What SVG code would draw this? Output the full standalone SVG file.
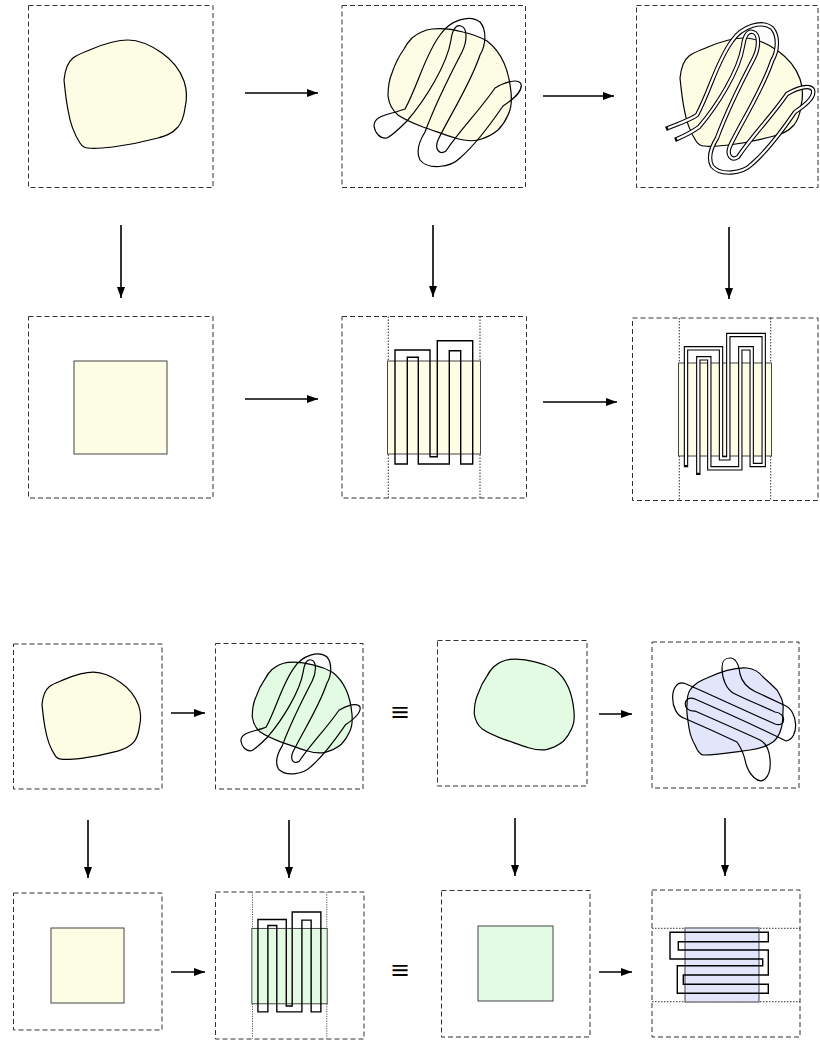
<svg xmlns="http://www.w3.org/2000/svg" width="820" height="1044" viewBox="0 0 820 1044">
<style>
.frame{fill:#fefefe;stroke:#333;stroke-width:1;stroke-dasharray:5 3}
.dot{fill:none;stroke:#333;stroke-width:1;stroke-dasharray:1.5 1.5}
.wire{fill:none;stroke:#000;stroke-width:1.2;stroke-linejoin:round}
.rwire{fill:none;stroke:#000;stroke-width:1.4;stroke-linejoin:miter}
.casing{fill:none;stroke:#000;stroke-width:4.4;stroke-linecap:square;stroke-linejoin:miter}
.inner{fill:none;stroke:#fff;stroke-width:2.2;stroke-linecap:butt;stroke-linejoin:miter}
.casingr{fill:none;stroke:#000;stroke-width:4.4;stroke-linecap:square;stroke-linejoin:round}
.innerr{fill:none;stroke:#fff;stroke-width:2.2;stroke-linecap:butt;stroke-linejoin:round}
.yel{fill:#fdfde5;stroke:#000;stroke-width:1.2}
.grn{fill:#e2fbe2;stroke:#000;stroke-width:1.2}
.blu{fill:#e3e6fb;stroke:#000;stroke-width:1.2}
.sq{stroke:#444;stroke-width:1}
.arrow{stroke:#000;stroke-width:1.6;fill:none;marker-end:url(#ah)}
.eq{font-family:"Liberation Sans","DejaVu Sans",sans-serif;font-size:26px;text-anchor:middle;fill:#000}
</style>
<defs>
<marker id="ah" viewBox="0 0 11 8" refX="11" refY="4" markerWidth="11" markerHeight="8" markerUnits="userSpaceOnUse" orient="auto"><path d="M0,0 L11,4 L0,8 z" fill="#000"/></marker>
<path id="blobA" d="M64,80 C65,70 68,62 73,58 C78,54 85,52 92,49 C104,44 116,40 128,40 C140,40 152,46 162,53 C172,60 180,70 184,81 C187,90 187,100 185,108 C184,116 182,122 178,127 C172,134 165,136 158,138 C143,142 128,145 113,147 C104,148 95,149 88,148 C85,148 82,146 80,143 C74,134 70,122 68,110 C66,100 65,90 64,80 Z"/>
<path id="blobB" d="M412,38 C418,33 424,30 432,29 C442,28 452,29 463,32 C472,34 480,37 487,41 C495,47 500,54 504,63 C508,72 510,82 511,92 C512,101 511,109 508,115 C505,122 502,126 498,130 C492,135 486,138 478,140 C470,142 462,140 455,138 C445,135 435,131 423,127 C415,124 405,120 398,115 C392,110 389,104 388,96 C388,88 389,80 392,73 C395,64 399,56 404,49 C406,45 409,41 412,38 Z"/>
<path id="curveB" fill="none" d="M405,109 C418,85 425,55 440,35 C450,20 470,14 480,22 C487,30 486,45 480,55 C470,85 450,115 438,140 C434,150 440,155 446,151 C460,130 480,110 495,88 C505,82 518,78 521,84 C523,92 512,100 503,106 C490,125 475,145 460,158 C450,168 428,170 420,160 C415,150 420,140 425,132 C435,105 450,75 462,52 C467,42 468,28 461,26 C455,24 452,32 451,40 C447,65 425,100 407,121 C400,128 393,135 387,138 C380,139 375,133 374,126 C374,119 380,116 392,113 C397,112 402,110 405,109 Z"/>
<path id="curveE" fill="none" d="M395,464 L395,350 L430,350 L430,456.7 L437.3,456.7 L437.3,340.7 L472.7,340.7 L472.7,464 L460.7,464 L460.7,350.7 L449.3,350.7 L449.3,464 L418.3,464 L418.3,357.3 L407.3,357.3 L407.3,464 Z"/>
<path id="curveC" d="M668,128 C680,123 690,120 697,115 C710,91 717,61 732,41 C742,26 762,20 772,28 C779,36 778,51 772,61 C762,91 742,121 730,146 C726,156 732,161 738,157 C752,136 772,116 787,94 C797,88 810,84 813,90 C815,98 804,106 795,112 C782,131 767,151 752,164 C742,174 720,176 712,166 C707,156 712,146 717,138 C727,111 742,81 754,58 C759,48 760,34 753,32 C747,30 744,38 743,46 C739,71 717,106 699,127 C692,132 684,136 677,139"/>
<path id="curveF" d="M686,465 L686,348.3 L721,348.3 L721,458.3 L728.3,458.3 L728.3,335 L763.7,335 L763.7,465 L751.7,465 L751.7,348.3 L740.3,348.3 L740.3,468.3 L709.3,468.3 L709.3,358.3 L698.3,358.3 L698.3,472.7"/>
</defs>

<g id="panel-a">
<rect class="frame" x="28.5" y="5.5" width="184.5" height="182"/>
<use href="#blobA" class="yel"/>
</g>
<g id="panel-b">
<rect class="frame" x="342" y="5.5" width="183.5" height="182"/>
<use href="#blobB" class="yel"/>
<use href="#curveB" class="wire"/>
</g>
<g id="panel-c">
<rect class="frame" x="636.5" y="5.5" width="181.5" height="182"/>
<use href="#blobA" class="yel" transform="translate(616,-2)"/>
<use href="#curveC" class="casingr"/>
<use href="#curveC" class="innerr"/>
</g>

<g id="panel-d">
<rect class="frame" x="28.5" y="316.5" width="184.5" height="181.5"/>
<rect class="sq" x="74" y="361" width="93" height="93" fill="#fdfde5"/>
</g>
<g id="panel-e">
<rect class="frame" x="342" y="316.5" width="184.5" height="181.5"/>
<line class="dot" x1="388.3" y1="316.5" x2="388.3" y2="498"/>
<line class="dot" x1="480" y1="316.5" x2="480" y2="498"/>
<rect class="sq" x="387.5" y="361" width="93" height="93" fill="#fdfde5"/>
<use href="#curveE" class="rwire"/>
</g>
<g id="panel-f">
<rect class="frame" x="632.5" y="318" width="185.5" height="182.5"/>
<line class="dot" x1="679.3" y1="318" x2="679.3" y2="500.5"/>
<line class="dot" x1="770.7" y1="318" x2="770.7" y2="500.5"/>
<rect class="sq" x="678.5" y="363" width="93" height="93" fill="#fdfde5"/>
<use href="#curveF" class="casing"/>
<use href="#curveF" class="inner"/>
</g>

<g id="panel-g">
<rect class="frame" x="13.5" y="644" width="148.5" height="145"/>
<use href="#blobA" fill="#fdfde5" stroke="#000" stroke-width="1.5" transform="translate(13,644) scale(0.805) translate(-28,-5)"/>
</g>
<g id="panel-h">
<rect class="frame" x="215.5" y="643.5" width="147.5" height="145.5"/>
<g transform="translate(215,643) scale(0.81) translate(-342,-5)">
<use href="#blobB" fill="#e2fbe2" stroke="#000" stroke-width="1.5"/>
<use href="#curveB" stroke="#000" stroke-width="1.5"/>
</g>
</g>
<g id="panel-i">
<rect class="frame" x="437.5" y="640.5" width="149.5" height="145.5"/>
<use href="#blobB" fill="#e2fbe2" stroke="#000" stroke-width="1.5" transform="translate(437,640) scale(0.81) translate(-342,-5)"/>
</g>
<g id="panel-j">
<rect class="frame" x="652" y="642" width="147" height="146"/>
<path class="blu" d="M690,690 C695,683 700,681 707,678 C720,672 735,667 747,668 C755,669 760,673 763,677 C770,683 774,687 777,690 C781,697 784,702 783,710 C783,718 783,724 781,729 C779,736 777,739 773,742 C766,747 758,749 750,750 C735,752 718,755 703,755 C699,754 697,750 695,745 C692,740 690,734 689,728 C688,720 686,712 687,705 C687,698 688,693 690,690 Z"/>
<path class="wire" d="M730,658 C737,658 739,666 740,674 C742,682 748,688 755,691.5 L785,705.5 C798,711 800,738 786,741 C770,733 720,710 695,699 C683,694 681,712 695,711 C720,722 745,733 760,740 C772,746 773,772 765,779 C758,785 749,774 746,764 C744,756 744,752 737,742 C720,734 700,725 685,718.5 C668,714 669,678 685,683.5 C720,699 760,717 775,724 C786,728 787,713 775,712 C760,705 745,699 735,694 C726,690 722,678 722,668 C722,659 726,658 730,658 Z"/>
</g>

<g id="panel-k">
<rect class="frame" x="13.5" y="893" width="148.5" height="137"/>
<rect class="sq" x="51" y="928" width="73" height="75" fill="#fdfde5"/>
</g>
<g id="panel-l">
<rect class="frame" x="215.5" y="892" width="148.5" height="147"/>
<g transform="translate(215,892) scale(0.81) translate(-342,-316)">
<line class="dot" x1="388.3" y1="316" x2="388.3" y2="497"/>
<line class="dot" x1="480" y1="316" x2="480" y2="497"/>
<rect x="387.5" y="361" width="93" height="93" fill="#e2fbe2" stroke="#444" stroke-width="1.2"/>
<use href="#curveE" stroke="#000" stroke-width="1.7"/>
</g>
</g>
<g id="panel-m">
<rect class="frame" x="441.5" y="890.5" width="148.5" height="146.5"/>
<rect class="sq" x="478" y="926" width="75" height="75" fill="#e2fbe2"/>
</g>
<g id="panel-n">
<rect class="frame" x="652" y="890" width="148" height="147"/>
<line class="dot" x1="652" y1="928.3" x2="800" y2="928.3"/>
<line class="dot" x1="652" y1="1001.7" x2="800" y2="1001.7"/>
<rect class="sq" x="685" y="928" width="74" height="74" fill="#e3e6fb"/>
<path class="rwire" stroke-width="1.6" d="M670,932.3 L768.3,932.3 L768.3,941.7 L678.3,941.7 L678.3,950 L768.3,950 L768.3,975 L683.3,975 L683.3,984.3 L768.3,984.3 L768.3,993.3 L677.3,993.3 L677.3,965.7 L762.7,965.7 L762.7,959 L670,959 Z"/>
</g>

<g id="equivalences">
<text class="eq" x="400" y="721" textLength="18" lengthAdjust="spacingAndGlyphs">≡</text>
<text class="eq" x="400" y="979" textLength="18" lengthAdjust="spacingAndGlyphs">≡</text>
</g>

<g id="connectors">
<line class="arrow" x1="245" y1="93" x2="318" y2="93"/>
<line class="arrow" x1="543" y1="96" x2="614" y2="96"/>
<line class="arrow" x1="245" y1="399" x2="318" y2="399"/>
<line class="arrow" x1="543" y1="402" x2="617" y2="402"/>
<line class="arrow" x1="121" y1="225" x2="121" y2="298"/>
<line class="arrow" x1="433" y1="225" x2="433" y2="297"/>
<line class="arrow" x1="729" y1="227" x2="729" y2="299"/>
<line class="arrow" x1="171" y1="713" x2="205" y2="713"/>
<line class="arrow" x1="599" y1="714" x2="632" y2="714"/>
<line class="arrow" x1="171" y1="972" x2="205" y2="972"/>
<line class="arrow" x1="599" y1="972" x2="632" y2="972"/>
<line class="arrow" x1="88" y1="820" x2="88" y2="878"/>
<line class="arrow" x1="289" y1="820" x2="289" y2="878"/>
<line class="arrow" x1="515" y1="818" x2="515" y2="876"/>
<line class="arrow" x1="725" y1="818" x2="725" y2="876"/>
</g>
</svg>
